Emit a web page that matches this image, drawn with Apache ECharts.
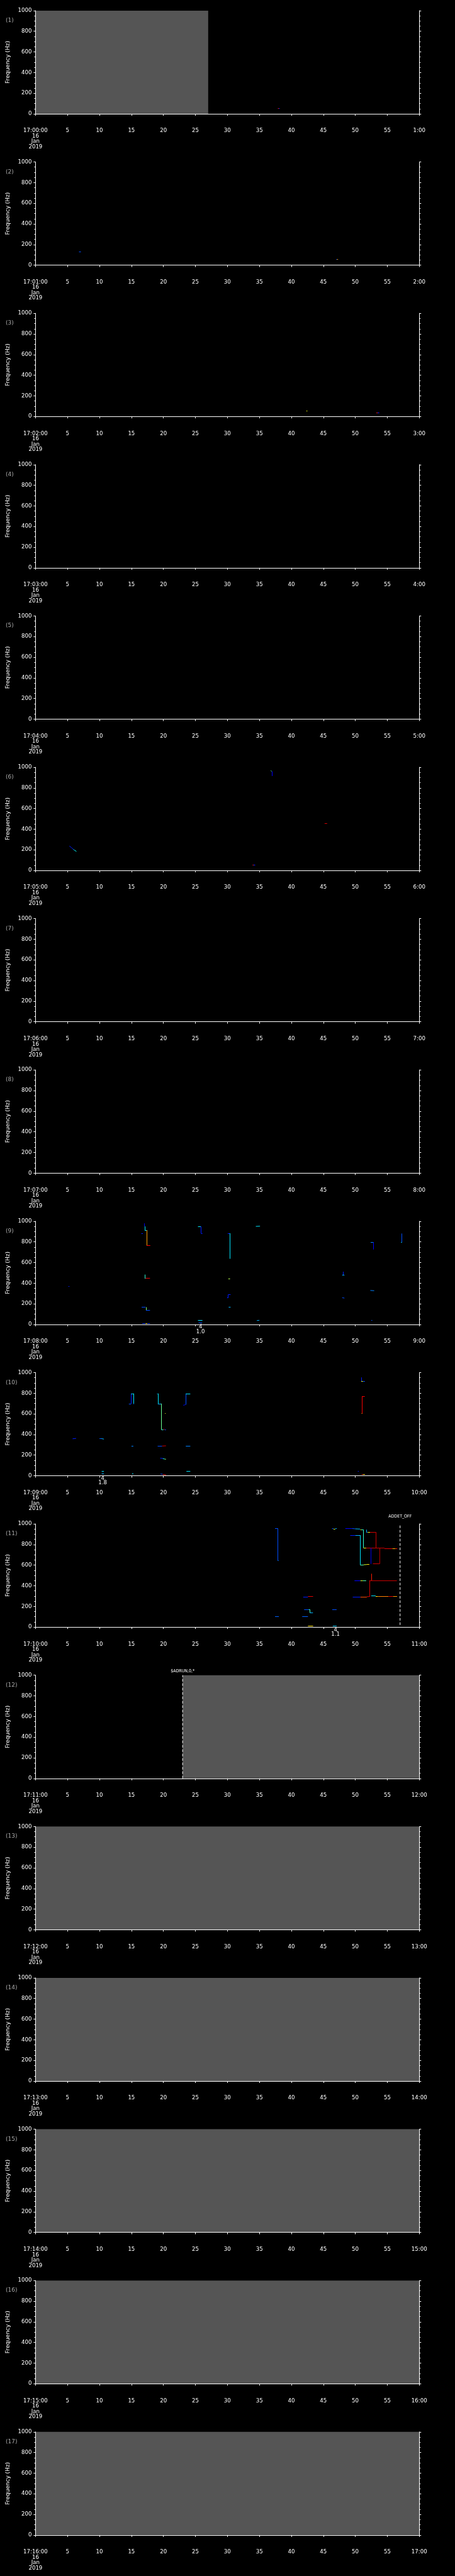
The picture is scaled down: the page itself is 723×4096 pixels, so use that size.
<!DOCTYPE html>
<html>
<head>
<meta charset="utf-8">
<script src="https://cdn.jsdelivr.net/npm/echarts@6/dist/echarts.min.js"></script>
<style>
  html, body { margin: 0; padding: 0; background: #000; }
  #chart { width: 723px; height: 4096px; }
</style>
</head>
<body>
<div id="chart"></div>
<script>
// one panel per minute, 17:00 to 17:17 on 16 Jan 2019
const startLabels = ['17:00:00', '17:01:00', '17:02:00', '17:03:00', '17:04:00', '17:05:00', '17:06:00', '17:07:00', '17:08:00',
  '17:09:00', '17:10:00', '17:11:00', '17:12:00', '17:13:00', '17:14:00', '17:15:00', '17:16:00'];
const endLabels = ['1:00', '2:00', '3:00', '4:00', '5:00', '6:00', '7:00', '8:00', '9:00',
  '10:00', '11:00', '12:00', '13:00', '14:00', '15:00', '16:00', '17:00'];
const dateLabel = '16\nJan\n2019';

// no-data (gray) spans: [panel, from s, to s]
const grayAreas = [[1, 0, 27], [12, 23, 60], [13, 0, 60], [14, 0, 60], [15, 0, 60], [16, 0, 60], [17, 0, 60]];
// event markers: [panel, s, lowest Hz, text]
const events = [[11, 57.0, 20, 'ADDET_OFF'], [12, 23.0, 0, '$ADRUN,0,*']];
// small annotations under the plot: [panel, s, line1, line2]
const notes = [[9, 25.8, '4', '1.0'], [10, 10.5, '4', '1.8'], [11, 46.9, '4', '1.1']];

// frequency tracks: [s1, Hz1, s2, Hz2, intensity 0..1]
const tracks1 = [[37.9, 53, 38.05, 53, 0.85], [38.05, 53, 38.2, 53, 0.15]];
const tracks2 = [[6.8, 131, 7.1, 131, 0.2], [47.0, 56, 47.15, 56, 0.2], [47.15, 56, 47.3, 56, 0.72]];
const tracks3 = [[42.35, 55, 42.5, 55, 0.62], [53.3, 37, 53.5, 37, 0.85], [53.5, 38, 53.75, 38, 0.15]];
const tracks6 = [
  [5.3, 237, 5.6, 222, 0.15], [5.6, 222, 5.9, 205, 0.15], [5.9, 205, 6.1, 196, 0.3], [6.1, 196, 6.4, 184, 0.38],
  [36.8, 968, 36.9, 960, 0.45], [36.95, 960, 36.95, 915, 0.12],
  [45.2, 459, 45.6, 459, 0.92],
  [33.95, 55, 34.1, 55, 0.85], [34.1, 55, 34.35, 55, 0.15]
];
const tracks9 = [
  [5.15, 370, 5.3, 370, 0.15],
  [16.55, 884, 16.8, 884, 0.15], [17.0, 980, 17.0, 950, 0.1], [17.08, 950, 17.08, 914, 0.35],
  [17.08, 914, 17.36, 914, 0.35], [17.36, 914, 17.36, 764, 0.72], [17.36, 764, 17.95, 764, 0.88],
  [17.08, 483, 17.08, 443, 0.42], [17.2, 450, 17.9, 452, 0.9],
  [16.6, 167, 17.2, 167, 0.2], [17.27, 167, 17.27, 136, 0.5], [17.27, 136, 17.9, 136, 0.2],
  [16.7, 10, 17.2, 10, 0.2], [17.2, 10, 17.5, 10, 0.65], [17.5, 10, 17.9, 10, 0.2],
  [25.4, 949, 25.85, 949, 0.35], [25.88, 949, 25.88, 884, 0.15], [25.88, 884, 26.1, 884, 0.15],
  [25.4, 38, 26.1, 40, 0.35], [25.5, 14, 26.05, 14, 0.2],
  [30.05, 884, 30.45, 884, 0.15], [30.42, 884, 30.42, 636, 0.35], [30.15, 443, 30.42, 443, 0.55],
  [30.14, 289, 30.14, 257, 0.15], [30.14, 289, 30.5, 289, 0.15], [29.95, 257, 30.14, 257, 0.15],
  [30.2, 166, 30.5, 166, 0.3],
  [34.45, 950, 35.1, 952, 0.35], [34.6, 37, 35.0, 40, 0.3],
  [48.08, 511, 48.08, 480, 0.15], [47.95, 480, 48.3, 480, 0.3], [47.95, 259, 48.3, 255, 0.2],
  [52.4, 796, 52.85, 796, 0.25], [52.8, 796, 52.8, 726, 0.12], [52.35, 329, 52.95, 327, 0.25],
  [52.5, 41, 52.65, 41, 0.2],
  [57.24, 881, 57.24, 796, 0.2], [57.15, 796, 57.28, 796, 0.35]
];
const tracks10 = [
  [5.8, 358, 6.35, 362, 0.15],
  [10.0, 363, 10.3, 362, 0.2], [10.3, 360, 10.7, 355, 0.3], [10.35, 43, 10.7, 43, 0.35], [10.35, 17, 10.7, 17, 0.3],
  [14.6, 699, 14.96, 699, 0.2], [14.96, 699, 14.96, 797, 0.15], [14.96, 797, 15.32, 797, 0.35],
  [15.32, 797, 15.32, 699, 0.35], [15.32, 699, 15.4, 699, 0.2], [15.0, 286, 15.3, 286, 0.25], [15.1, 17, 15.3, 17, 0.35],
  [19.0, 797, 19.1, 797, 0.3], [19.13, 797, 19.13, 699, 0.35], [19.13, 699, 19.7, 699, 0.3],
  [19.71, 699, 19.71, 446, 0.48], [19.71, 446, 20.0, 446, 0.4], [20.0, 448, 20.2, 450, 0.9], [20.2, 448, 20.4, 448, 0.2],
  [20.25, 603, 20.35, 603, 0.6],
  [19.1, 286, 19.8, 286, 0.2], [19.8, 288, 20.4, 290, 0.92],
  [19.5, 170, 19.9, 168, 0.15], [19.9, 166, 20.15, 163, 0.35], [20.15, 162, 20.4, 160, 0.5],
  [19.55, 17, 19.9, 14, 0.2], [19.9, 12, 20.4, 7, 0.85],
  [23.1, 683, 23.45, 689, 0.12], [23.5, 689, 23.5, 797, 0.2], [23.5, 797, 24.2, 797, 0.35],
  [23.5, 286, 24.2, 286, 0.25], [23.6, 43, 24.2, 43, 0.35],
  [50.94, 953, 50.94, 914, 0.15], [50.94, 914, 51.2, 914, 0.6], [51.2, 914, 51.5, 914, 0.2],
  [51.03, 767, 51.03, 603, 0.88], [51.03, 767, 51.48, 767, 0.88], [50.98, 603, 51.1, 603, 0.75],
  [50.4, 46, 50.55, 46, 0.15], [51.0, 11, 51.2, 11, 0.85], [51.2, 11, 51.5, 11, 0.65]
];
const tracks11 = [
  [37.45, 956, 37.9, 956, 0.2], [37.9, 956, 37.9, 643, 0.2], [37.9, 643, 38.0, 643, 0.25], [37.45, 105, 38.05, 105, 0.22],
  [46.36, 955, 46.6, 953, 0.2], [46.6, 950, 46.85, 950, 0.6], [46.85, 952, 47.1, 956, 0.3],
  [48.44, 956, 49.5, 956, 0.12], [49.5, 955, 50.0, 952, 0.2], [50.0, 952, 50.75, 950, 0.32],
  [50.8, 944, 51.0, 944, 0.6], [51.0, 944, 51.28, 944, 0.4], [51.28, 944, 51.28, 768, 0.42],
  [51.28, 768, 51.7, 768, 0.6], [51.7, 768, 53.18, 768, 0.92],
  [49.2, 891, 50.0, 891, 0.15], [50.0, 891, 50.75, 891, 0.3], [50.75, 891, 50.75, 605, 0.35],
  [50.75, 605, 51.3, 603, 0.45], [51.3, 604, 51.8, 606, 0.58], [51.8, 607, 52.19, 608, 0.65],
  [51.74, 944, 51.74, 918, 0.3], [51.74, 918, 51.95, 918, 0.25], [51.95, 922, 52.3, 922, 0.62], [52.3, 921, 53.18, 921, 0.92],
  [53.18, 921, 53.18, 768, 0.93], [52.44, 767, 52.44, 612, 0.1],
  [52.75, 612, 53.77, 612, 0.92], [53.77, 612, 53.77, 767, 0.95], [53.18, 767, 54.56, 766, 0.93],
  [54.56, 762, 55.8, 762, 0.9], [55.8, 762, 56.3, 762, 0.7], [56.3, 762, 56.55, 762, 0.88],
  [49.87, 449, 50.8, 449, 0.12], [50.8, 453, 51.2, 453, 0.58], [51.2, 453, 51.7, 453, 0.45],
  [52.49, 517, 52.49, 453, 0.85], [52.19, 453, 56.5, 453, 0.93], [52.19, 453, 52.19, 293, 0.92],
  [49.6, 292, 50.8, 292, 0.15], [50.8, 293, 51.8, 294, 0.8], [51.8, 294, 52.19, 296, 0.9],
  [52.49, 303, 53.18, 302, 0.35], [53.18, 301, 53.5, 299, 0.65], [53.5, 300, 55.2, 300, 0.75],
  [55.2, 298, 55.9, 297, 0.9], [55.9, 299, 56.53, 300, 0.72],
  [41.85, 292, 42.6, 292, 0.15], [42.6, 297, 43.4, 297, 0.9],
  [42.0, 173, 42.7, 173, 0.2], [42.7, 173, 42.87, 171, 0.4], [42.87, 171, 42.87, 140, 0.45], [42.87, 140, 43.38, 140, 0.3],
  [41.7, 105, 42.6, 105, 0.22], [42.6, 12, 43.4, 12, 0.65],
  [46.4, 173, 47.08, 173, 0.2], [46.48, 14, 47.08, 14, 0.33]
];
const tracksByPanel = { 1: tracks1, 2: tracks2, 3: tracks3, 6: tracks6, 9: tracks9, 10: tracks10, 11: tracks11 };

// layout, measured on the 1024px reference then scaled
const S = 0.705;
const PITCH = 341.3 * S;
const font = 'DejaVu Sans';
const eventLabelRaise = [12, 6.3];

function jet(v) {
  const c = (x) => Math.round(255 * Math.max(0, Math.min(1, 1.5 - Math.abs(4 * v - x))));
  return `rgb(${c(3)},${c(2)},${c(1)})`;
}

const grids = [], xAxes = [], yAxes = [], titles = [], series = [];

for (let i = 0; i < 17; i++) {
  const panel = i + 1;
  const top = i * PITCH + 24 * S;
  grids.push({ left: 80 * S, width: 865 * S, top: top, height: 232.7 * S });
  titles.push({
    text: `(${panel})`, left: 9, top: i * PITCH + 47 * S - 5, padding: 0,
    textStyle: { color: '#a8a8a8', fontSize: 9, fontWeight: 'normal', fontFamily: font }
  });
  xAxes.push({
    type: 'value', gridIndex: i, min: 0, max: 60, interval: 5, offset: 24 * S, z: 5,
    axisLine: { show: true, lineStyle: { color: '#fff', width: 1 } },
    axisTick: { length: 3, lineStyle: { color: '#fff' } },
    splitLine: { show: false },
    axisLabel: {
      color: '#fff', fontSize: 8.6, fontFamily: font, margin: 6, lineHeight: 8.5,
      formatter: (v) => v === 0 ? startLabels[i] + '\n' + dateLabel : v === 60 ? endLabels[i] : String(v)
    }
  });
  const yBase = {
    type: 'value', gridIndex: i, min: 0, max: 1000, interval: 200, z: 5,
    axisLine: { show: true, lineStyle: { color: '#fff', width: 1 } },
    axisTick: { show: true, length: 3, lineStyle: { color: '#fff' } },
    minorTick: { show: true, splitNumber: 4, length: 2, lineStyle: { color: '#fff' } },
    splitLine: { show: false }
  };
  yAxes.push(Object.assign({}, yBase, {
    position: 'left',
    axisLabel: { color: '#fff', fontSize: 8.6, fontFamily: font, margin: 6, formatter: (v) => String(v) },
    name: 'Frequency (Hz)', nameLocation: 'middle', nameGap: 36, nameRotate: 90,
    nameTextStyle: { color: '#fff', fontSize: 9, fontFamily: font }
  }));
  yAxes.push(Object.assign({}, yBase, { position: 'right', axisLabel: { show: false } }));

  const yIdx = 2 * i;
  const gray = grayAreas.filter((g) => g[0] === panel).map((g) => [g[1], g[2]]);
  if (gray.length) {
    series.push({
      type: 'custom', xAxisIndex: i, yAxisIndex: yIdx, silent: true, z: 1, data: gray,
      renderItem: (params, api) => {
        const p0 = api.coord([api.value(0), 1000]);
        const p1 = api.coord([api.value(1), 0]);
        return { type: 'rect', shape: { x: p0[0], y: p0[1], width: p1[0] - p0[0], height: p1[1] - p0[1] }, style: { fill: '#555555' } };
      }
    });
  }
  const tr = tracksByPanel[panel];
  if (tr) {
    series.push({
      type: 'lines', coordinateSystem: 'cartesian2d', xAxisIndex: i, yAxisIndex: yIdx, silent: true, z: 3,
      lineStyle: { width: 1, opacity: 1 },
      data: tr.map((s) => ({ coords: [[s[0], s[1]], [s[2], s[3]]], lineStyle: { color: jet(s[4]) } }))
    });
  }
  events.forEach((ev, k) => {
    if (ev[0] !== panel) return;
    series.push({
      type: 'custom', xAxisIndex: i, yAxisIndex: yIdx, silent: true, z: 4, data: [[ev[1], ev[2]]],
      renderItem: (params, api) => {
        const lo = api.coord([api.value(0), api.value(1)]);
        const hi = api.coord([api.value(0), 1000]);
        return {
          type: 'group', children: [
            { type: 'line', shape: { x1: lo[0], y1: lo[1], x2: hi[0], y2: hi[1] }, style: { stroke: '#fff', lineWidth: 1, lineDash: [4.2, 2.8] } },
            { type: 'text', style: { text: ev[3], x: hi[0], y: hi[1] - eventLabelRaise[k], fill: '#fff', align: 'center', verticalAlign: 'middle', fontSize: 7, fontFamily: 'DejaVu Sans Condensed, DejaVu Sans' } }
          ]
        };
      }
    });
  });
  notes.forEach((n) => {
    if (n[0] !== panel) return;
    series.push({
      type: 'custom', xAxisIndex: i, yAxisIndex: yIdx, silent: true, z: 4, clip: false, data: [[n[1], 0]],
      renderItem: (params, api) => {
        const p = api.coord([api.value(0), 0]);
        return { type: 'text', style: { text: n[2] + '\n' + n[3], x: p[0], y: p[1] + 0.5, fill: '#fff', align: 'center', verticalAlign: 'top', fontSize: 8.5, lineHeight: 7.5, fontFamily: font } };
      }
    });
  });
}

const chart = echarts.init(document.getElementById('chart'), null, { renderer: 'canvas' });
chart.setOption({
  backgroundColor: '#000',
  animation: false,
  title: titles,
  grid: grids,
  xAxis: xAxes,
  yAxis: yAxes,
  series: series
});
</script>
</body>
</html>
